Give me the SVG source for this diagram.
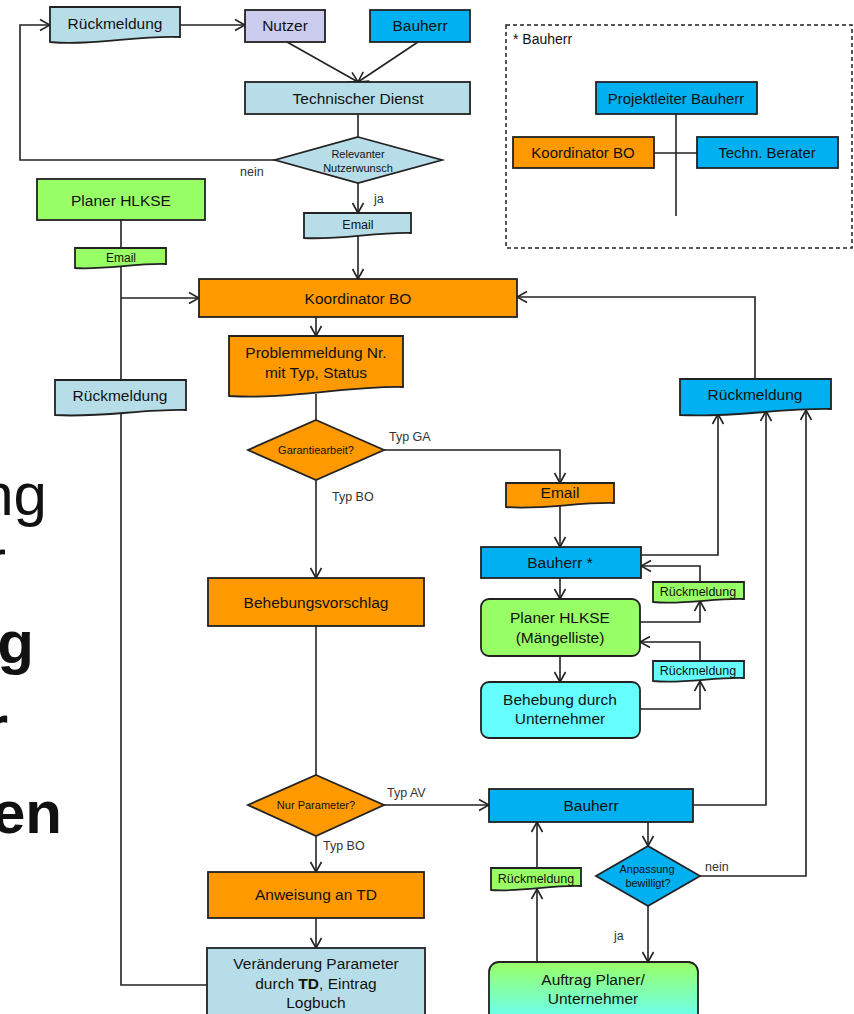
<svg xmlns="http://www.w3.org/2000/svg" width="854" height="1014" viewBox="0 0 854 1014">
<defs>
<marker id="arr" viewBox="-1 -7 12 14" refX="10" refY="0" markerWidth="12" markerHeight="14" markerUnits="userSpaceOnUse" orient="auto">
<path d="M0,-5.5 L10,0 L0,5.5" fill="none" stroke="#222" stroke-width="1.6"/>
</marker>
<linearGradient id="gAuf" x1="0" y1="0" x2="0" y2="1">
<stop offset="0" stop-color="#99FF66"/>
<stop offset="1" stop-color="#66FFFF"/>
</linearGradient>
<style>
.n{stroke:#222;stroke-width:1.8}
.lb{fill:#B7DEE8}.lav{fill:#CCCCEE}.bl{fill:#00B0F0}.or{fill:#FF9900}.gr{fill:#99FF66}.cy{fill:#66FFFF}
text{font-family:"Liberation Sans",Arial,sans-serif;fill:#111;text-anchor:middle}
.t{font-size:15.5px}.s{font-size:12.5px}.d{font-size:11px}
.lab{font-size:12.5px;fill:#333;text-anchor:start}
.c{fill:none;stroke:#222;stroke-width:1.6}
.a{marker-end:url(#arr)}
.big{font-size:60px;text-anchor:end;fill:#111}
</style>
</defs>
<rect width="854" height="1014" fill="#fff"/>

<g id="background-text">
<text class="big" x="47" y="515">ng</text>
<text class="big" x="6" y="581">r</text>
<text class="big" x="34" y="663" font-weight="bold">g</text>
<text class="big" x="8" y="747" font-weight="bold">r</text>
<text class="big" x="62" y="833" font-weight="bold">en</text>
</g>

<g id="connectors">
<path class="c a" d="M180,25 H245"/>
<path class="c a" d="M287,42 L358,82"/>
<path class="c a" d="M418,42 L358,82"/>
<path class="c" d="M358,114 V137"/>
<path class="c a" d="M275,160 H20 V25 H50"/>
<path class="c a" d="M358,183 V213"/>
<path class="c a" d="M358,236 V279"/>
<path class="c" d="M121,220 V985 H207"/>
<path class="c a" d="M121,298 H199"/>
<path class="c a" d="M316,317 V336"/>
<path class="c" d="M316,394 V420"/>
<path class="c a" d="M384,450 H560 V483"/>
<path class="c a" d="M316,480 V578"/>
<path class="c" d="M316,626 V775"/>
<path class="c a" d="M384,805 H489"/>
<path class="c a" d="M316,836 V872"/>
<path class="c a" d="M316,918 V948"/>
<path class="c a" d="M755,379 V297 H517"/>
<path class="c a" d="M560,505 V547"/>
<path class="c a" d="M641,555 H718 V414"/>
<path class="c a" d="M693,805 H766 V411"/>
<path class="c a" d="M700,876 H806 V410"/>
<path class="c a" d="M700,582 V566 H641"/>
<path class="c a" d="M640,622 H700 V601"/>
<path class="c a" d="M700,661 V642 H640"/>
<path class="c a" d="M640,709 H700 V681"/>
<path class="c a" d="M560,578 V599"/>
<path class="c a" d="M560,656 V682"/>
<path class="c a" d="M648,822 V846"/>
<path class="c a" d="M648,906 V962"/>
<path class="c a" d="M537,962 V889"/>
<path class="c a" d="M537,868 V822"/>
<path class="c" d="M676,114 V216"/>
<path class="c" d="M654,153 H697"/>
<text class="lab" x="240" y="176">nein</text>
<text class="lab" x="374" y="203">ja</text>
<text class="lab" x="389" y="441">Typ GA</text>
<text class="lab" x="332" y="501">Typ BO</text>
<text class="lab" x="387" y="797">Typ AV</text>
<text class="lab" x="323" y="850">Typ BO</text>
<text class="lab" x="705" y="871">nein</text>
<text class="lab" x="614" y="940">ja</text>
</g>

<g id="legend">
<rect x="506" y="25" width="346" height="223" fill="none" stroke="#222" stroke-width="1.5" stroke-dasharray="4 3"/>
<text x="513" y="44" style="font-size:14px;text-anchor:start">* Bauherr</text>
</g>
<g id="projektleiter">
<rect class="n bl" x="596" y="82" width="161" height="32"/>
<text class="t" x="676" y="104" style="font-size:15px">Projektleiter Bauherr</text>
</g>
<g id="koordinator-legend">
<rect class="n or" x="513" y="137" width="141" height="31"/>
<text class="t" x="583" y="158" style="font-size:15px">Koordinator BO</text>
</g>
<g id="techn-berater">
<rect class="n bl" x="697" y="137" width="141" height="31"/>
<text class="t" x="767" y="158" style="font-size:15px">Techn. Berater</text>
</g>

<g id="rueckmeldung-top">
<path class="n lb" d="M50,7 H180 V37 C138,35 92,46 50,42 Z"/>
<text class="t" x="115" y="29">Rückmeldung</text>
</g>
<g id="nutzer">
<rect class="n lav" x="245" y="10" width="80" height="32"/>
<text class="t" x="285" y="31">Nutzer</text>
</g>
<g id="bauherr-top">
<rect class="n bl" x="370" y="10" width="100" height="32"/>
<text class="t" x="420" y="31">Bauherr</text>
</g>
<g id="technischer-dienst">
<rect class="n lb" x="245" y="82" width="225" height="32"/>
<text class="t" x="358" y="104">Technischer Dienst</text>
</g>
<g id="relevanter-nutzerwunsch">
<polygon class="n lb" points="358,137 442,160 358,183 275,160"/>
<text class="d" x="358" y="158">Relevanter</text>
<text class="d" x="358" y="172">Nutzerwunsch</text>
</g>
<g id="email-top">
<path class="n lb" d="M304,213 H411 V233 C376,232 340,240 304,238 Z"/>
<text class="s" x="358" y="229">Email</text>
</g>
<g id="planer-hlkse-left">
<rect class="n gr" x="37" y="179" width="168" height="41"/>
<text class="t" x="121" y="206">Planer HLKSE</text>
</g>
<g id="email-green">
<path class="n gr" d="M75,248 H166 V264 C136,263 105,270 75,268 Z"/>
<text class="s" x="121" y="262" style="font-size:12px">Email</text>
</g>
<g id="rueckmeldung-left">
<path class="n lb" d="M55,380 H186 V410 C143,409 98,418 55,415 Z"/>
<text class="t" x="120" y="401">Rückmeldung</text>
</g>
<g id="koordinator-bo">
<rect class="n or" x="199" y="279" width="318" height="38"/>
<text class="t" x="358" y="304">Koordinator BO</text>
</g>
<g id="problemmeldung">
<path class="n or" d="M229,336 H403 V387 C345,386 287,400 229,396 Z"/>
<text class="t" x="316" y="358">Problemmeldung  Nr.</text>
<text class="t" x="316" y="378">mit Typ, Status</text>
</g>
<g id="garantiearbeit">
<polygon class="n or" points="316,420 384,450 316,480 248,450"/>
<text class="d" x="316" y="454">Garantiearbeit?</text>
</g>
<g id="behebungsvorschlag">
<rect class="n or" x="208" y="578" width="216" height="48"/>
<text class="t" x="316" y="608">Behebungsvorschlag</text>
</g>
<g id="nur-parameter">
<polygon class="n or" points="316,775 384,805 316,836 248,805"/>
<text class="d" x="316" y="809">Nur Parameter?</text>
</g>
<g id="anweisung-td">
<rect class="n or" x="208" y="872" width="216" height="46"/>
<text class="t" x="316" y="900">Anweisung an TD</text>
</g>
<g id="veraenderung">
<rect class="n lb" x="207" y="948" width="218" height="72"/>
<text class="t" x="316" y="969">Veränderung Parameter</text>
<text class="t" x="316" y="989">durch <tspan font-weight="bold">TD</tspan>, Eintrag</text>
<text class="t" x="316" y="1008">Logbuch</text>
</g>

<g id="rueckmeldung-right">
<path class="n bl" d="M680,379 H831 V409 C781,408 730,418 680,415 Z"/>
<text class="t" x="755" y="400">Rückmeldung</text>
</g>
<g id="email-orange">
<path class="n or" d="M506,483 H614 V503 C578,502 542,510 506,507 Z"/>
<text class="t" x="560" y="498">Email</text>
</g>
<g id="bauherr-star">
<rect class="n bl" x="481" y="547" width="160" height="31"/>
<text class="t" x="560" y="568">Bauherr *</text>
</g>
<g id="rueckmeldung-green1">
<path class="n gr" d="M653,582 H744 V599 C714,598 683,605 653,602 Z"/>
<text class="s" x="698" y="596">Rückmeldung</text>
</g>
<g id="planer-maengelliste">
<rect class="n gr" x="481" y="599" width="159" height="57" rx="8"/>
<text class="t" x="560" y="623">Planer HLKSE</text>
<text class="t" x="560" y="643">(Mängelliste)</text>
</g>
<g id="rueckmeldung-cyan">
<path class="n cy" d="M653,661 H744 V678 C714,677 683,684 653,681 Z"/>
<text class="s" x="698" y="675">Rückmeldung</text>
</g>
<g id="behebung-unternehmer">
<rect class="n cy" x="481" y="682" width="159" height="56" rx="8"/>
<text class="t" x="560" y="705">Behebung durch</text>
<text class="t" x="560" y="724">Unternehmer</text>
</g>
<g id="bauherr-bottom">
<rect class="n bl" x="489" y="789" width="204" height="33"/>
<text class="t" x="591" y="811">Bauherr</text>
</g>
<g id="anpassung">
<polygon class="n bl" points="648,846 700,876 648,906 596,876"/>
<text class="d" x="647" y="873">Anpassung</text>
<text class="d" x="648" y="887">bewilligt?</text>
</g>
<g id="rueckmeldung-green2">
<path class="n gr" d="M491,868 H581 V886 C551,885 521,892 491,890 Z"/>
<text class="s" x="536" y="883">Rückmeldung</text>
</g>
<g id="auftrag">
<rect x="489" y="962" width="209" height="62" rx="10" fill="url(#gAuf)" stroke="#222" stroke-width="1.8"/>
<text class="t" x="593" y="985">Auftrag Planer/</text>
<text class="t" x="593" y="1004">Unternehmer</text>
</g>
</svg>
